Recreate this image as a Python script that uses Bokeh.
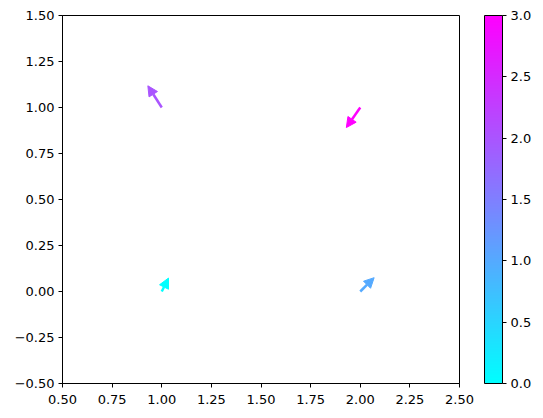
import numpy as np
from bokeh.plotting import figure
from bokeh.models import (ColumnDataSource, Arrow, NormalHead, LinearColorMapper, ColorBar,
                          FixedTicker, PrintfTickFormatter, Range1d)
from bokeh.transform import transform
from bokeh.embed import file_html
from bokeh.resources import INLINE

# data
X = [1.0, 2.0, 1.0, 2.0]
Y = [0.0, 0.0, 1.0, 1.0]
U = [0.034, 0.070, -0.070, -0.070]
V = [0.073, 0.075, 0.118, -0.109]
C = [0.0, 1.0, 2.0, 3.0]
x_ticks = [0.5, 0.75, 1.0, 1.25, 1.5, 1.75, 2.0, 2.25, 2.5]
y_ticks = [-0.5, -0.25, 0.0, 0.25, 0.5, 0.75, 1.0, 1.25, 1.5]
cb_ticks = [0.0, 0.5, 1.0, 1.5, 2.0, 2.5, 3.0]

# matplotlib "cool" colormap
t = np.linspace(0, 1, 256)
cool = ["#%02x%02x%02x" % (int(round(255 * a)), int(round(255 * (1 - a))), 255) for a in t]
mapper = LinearColorMapper(palette=cool, low=0, high=3)

src = ColumnDataSource(dict(x0=X, y0=Y,
                            x1=[x + u for x, u in zip(X, U)],
                            y1=[y + v for y, v in zip(Y, V)], c=C))

p = figure(frame_width=397, frame_height=368, min_border_left=62, min_border_top=15,
           min_border_bottom=35, min_border_right=84,
           x_range=Range1d(0.5, 2.5), y_range=Range1d(-0.5, 1.5),
           output_backend="svg", toolbar_location=None)
p.grid.visible = False
p.outline_line_color = "black"
p.outline_line_width = 1

head = NormalHead(size=10, fill_color=transform("c", mapper), line_color=transform("c", mapper),
                  line_width=1)
arr = Arrow(x_start="x0", y_start="y0", x_end="x1", y_end="y1", source=src,
            line_color=transform("c", mapper), line_width=2.5, end=head)
p.add_layout(arr)

font = "DejaVu Sans"
for ax, ticks, standoff in ((p.xaxis[0], x_ticks, 7), (p.yaxis[0], y_ticks, 4)):
    ax.ticker = FixedTicker(ticks=ticks)
    ax.major_label_overrides = {tk: ("%.2f" % tk).replace("-", "\u2212") for tk in ticks}
    ax.minor_tick_line_color = None
    ax.major_tick_in = 0
    ax.major_tick_out = 4
    ax.axis_line_color = "black"
    ax.major_tick_line_color = "black"
    ax.major_label_text_font = font
    ax.major_label_text_font_size = "13px"
    ax.major_label_text_color = "black"
    ax.major_label_standoff = standoff

cb = ColorBar(color_mapper=mapper, width=18, height=368, padding=0, margin=0,
              location=(422, 0),
              ticker=FixedTicker(ticks=cb_ticks), formatter=PrintfTickFormatter(format="%.1f"),
              major_tick_in=0, major_tick_out=4, major_tick_line_color="black",
              minor_tick_line_color=None, bar_line_color="black",
              major_label_text_font=font, major_label_text_font_size="13px",
              major_label_text_color="black", label_standoff=4,
              border_line_color=None, background_fill_alpha=0)
p.add_layout(cb, "center")

open("out.html", "w").write(file_html(p, INLINE))
